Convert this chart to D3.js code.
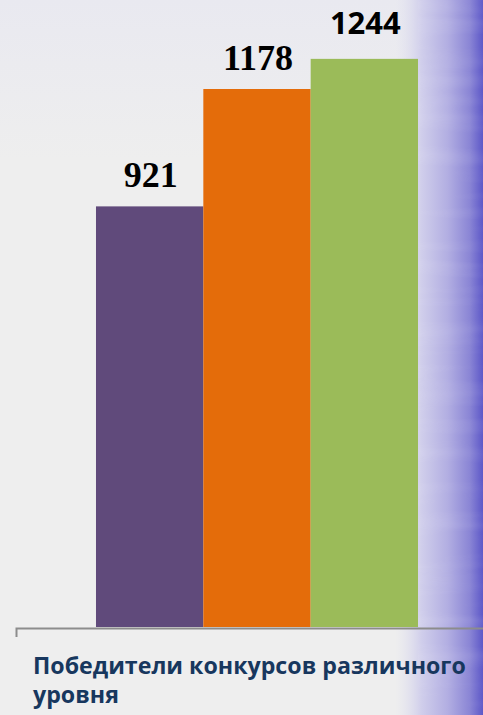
<!DOCTYPE html>
<html lang="ru">
<head>
<meta charset="utf-8">
<title>Победители конкурсов</title>
<script src="https://cdn.jsdelivr.net/npm/d3@7"></script>
<style>
    body { margin: 0; background: #eeeeee; }
    svg { display: block; }
    .catLabel {
        font-family: "Open Sans", sans-serif;
        font-weight: bold;
        font-size: 23.2px;
        fill: #17375e;
    }
    .axis path, .axis line { stroke: #8c8c8c; stroke-width: 2; }
</style>
</head>
<body>
<script>

    var w = 483;
    var h = 715;

    // data
    var categories = ["Победители конкурсов различного уровня"];
    var series = ["s1", "s2", "s3"];
    var values = [921, 1178, 1244];
    var colors = ["#604a7b", "#e46c0a", "#9bbb59"];
    var labelFonts = ["Liberation Serif", "Liberation Serif", "Open Sans"];

    var baseY = 627;

    var svg = d3.select("body")
                .append("svg")
                .attr("width", w)
                .attr("height", h);

    var defs = svg.append("defs");

    // background: slight lavender at the top, blue streaky band on the right
    var topGrad = defs.append("linearGradient")
                .attr("id", "topGrad")
                .attr("x1", 0).attr("y1", 0).attr("x2", 0).attr("y2", 1);
    topGrad.append("stop").attr("offset", "0%").attr("stop-color", "#e9e9f0");
    topGrad.append("stop").attr("offset", "100%").attr("stop-color", "#eeeeee");

    var sideGrad = defs.append("linearGradient")
                .attr("id", "sideGrad")
                .attr("gradientUnits", "userSpaceOnUse")
                .attr("x1", 395).attr("y1", 0).attr("x2", 483).attr("y2", 0);
    sideGrad.append("stop").attr("offset", "0%").attr("stop-color", "#e2e2f0").attr("stop-opacity", 0);
    sideGrad.append("stop").attr("offset", "30%").attr("stop-color", "#d0ceeb").attr("stop-opacity", 1);
    sideGrad.append("stop").attr("offset", "60%").attr("stop-color", "#b2aee2");
    sideGrad.append("stop").attr("offset", "85%").attr("stop-color", "#8a85d5");
    sideGrad.append("stop").attr("offset", "100%").attr("stop-color", "#5d58c8");

    var streaks = defs.append("filter")
                .attr("id", "streaks")
                .attr("x", 0).attr("y", 0).attr("width", 1).attr("height", 1);
    streaks.append("feTurbulence")
        .attr("type", "fractalNoise")
        .attr("baseFrequency", "0.006 0.06")
        .attr("numOctaves", 2)
        .attr("seed", 4);
    streaks.append("feColorMatrix")
        .attr("values", "0 0 0 0 0.95  0 0 0 0 0.95  0 0 0 0 1  0 0 0 1.2 -0.5");

    svg.append("rect")
        .attr("width", w).attr("height", 160)
        .attr("fill", "url(#topGrad)");

    svg.append("rect")
        .attr("x", 395).attr("width", 88).attr("height", h)
        .attr("fill", "url(#sideGrad)");

    svg.append("rect")
        .attr("x", 418).attr("width", 65).attr("height", h)
        .attr("filter", "url(#streaks)")
        .attr("opacity", 0.18);

    // scales
    var xScale = d3.scaleBand()
                .domain(categories)
                .range([16, 498])
                .paddingInner(0)
                .paddingOuter(0.2484);

    var xInner = d3.scaleBand()
                .domain(series)
                .range([0, xScale.bandwidth()]);

    var yScale = d3.scaleLinear()
                .domain([0, 1400])
                .range([baseY, baseY - 1400 * 0.4567]);

    var data = series.map(function(s, i) {
        return { key: s, value: values[i], color: colors[i], font: labelFonts[i] };
    });

    var group = svg.append("g")
                .attr("transform", "translate(" + xScale(categories[0]) + ",0)");

    group.selectAll("rect")
        .data(data)
        .enter()
        .append("rect")
        .attr("x", function(d) { return xInner(d.key); })
        .attr("y", function(d) { return yScale(d.value); })
        .attr("width", xInner.bandwidth())
        .attr("height", function(d) { return baseY - yScale(d.value); })
        .attr("fill", function(d) { return d.color; });

    group.selectAll("text")
        .data(data)
        .enter()
        .append("text")
        .attr("x", function(d) { return xInner(d.key) + xInner.bandwidth() / 2 + 1; })
        .attr("y", function(d) { return yScale(d.value) - (d.font === "Open Sans" ? 25 : 19); })
        .attr("text-anchor", "middle")
        .style("font-family", function(d) { return d.font; })
        .style("font-weight", "bold")
        .style("font-size", function(d) { return d.font === "Open Sans" ? "31px" : "36px"; })
        .style("fill", "#000")
        .text(function(d) { return d.value; });

    // x axis: only a line and the outer tick on the left
    var xAxis = d3.axisBottom(xScale)
                .tickSize(0)
                .tickSizeOuter(9)
                .tickFormat("");

    svg.append("g")
        .attr("class", "axis")
        .attr("transform", "translate(0," + (baseY + 1) + ")")
        .call(xAxis);

    // category label wrapped on two lines
    var words = categories[0].split(" ");
    var label = svg.append("text")
                .attr("class", "catLabel")
                .attr("x", 33)
                .attr("y", 674);
    label.append("tspan").attr("x", 33).text(words.slice(0, 3).join(" "));
    label.append("tspan").attr("x", 33).attr("dy", 29).text(words.slice(3).join(" "));

</script>
</body>
</html>
